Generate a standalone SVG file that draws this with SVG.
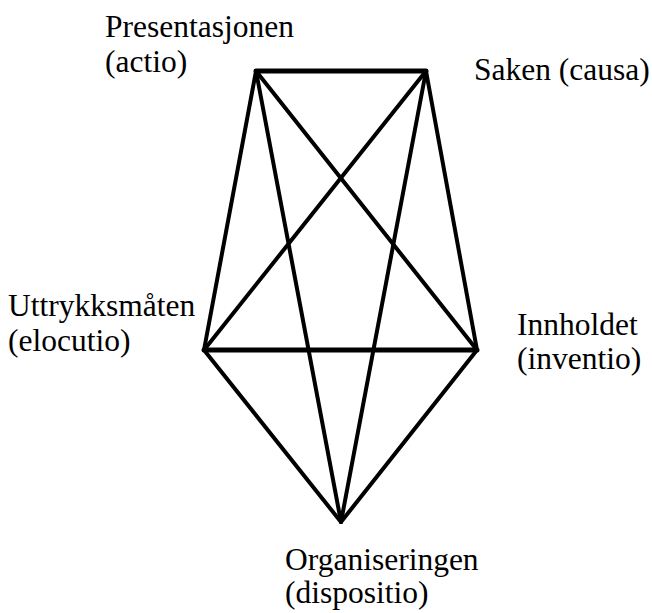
<svg xmlns="http://www.w3.org/2000/svg" width="652" height="613" viewBox="0 0 652 613">
<style>
.lbl{font-family:"Liberation Serif","Times New Roman",serif;font-size:31.5px;fill:#000}
.e{stroke:#000;stroke-width:4;stroke-linecap:round;fill:none}
.h{stroke-width:5}
</style>
<rect width="652" height="613" fill="#fff"/>
<g id="connectors">
<line class="e h" x1="256" y1="71" x2="426" y2="71"/>
<line class="e h" x1="204" y1="350" x2="477" y2="350"/>
<line class="e" x1="256" y1="71" x2="204" y2="350"/>
<line class="e" x1="256" y1="71" x2="477" y2="350"/>
<line class="e" x1="256" y1="71" x2="341" y2="522"/>
<line class="e" x1="426" y1="71" x2="204" y2="350"/>
<line class="e" x1="426" y1="71" x2="477" y2="350"/>
<line class="e" x1="426" y1="71" x2="341" y2="522"/>
<line class="e" x1="204" y1="350" x2="341" y2="522"/>
<line class="e" x1="477" y1="350" x2="341" y2="522"/>
</g>
<g id="actio"><text class="lbl" x="105" y="37">Presentasjonen</text><text class="lbl" x="105" y="72">(actio)</text></g>
<g id="causa"><text class="lbl" x="474" y="80">Saken (causa)</text></g>
<g id="elocutio"><text class="lbl" x="8" y="316">Uttrykksmåten</text><text class="lbl" x="8" y="351">(elocutio)</text></g>
<g id="inventio"><text class="lbl" x="517" y="335">Innholdet</text><text class="lbl" x="517" y="369">(inventio)</text></g>
<g id="dispositio"><text class="lbl" x="285" y="570">Organiseringen</text><text class="lbl" x="285" y="603">(dispositio)</text></g>
</svg>
